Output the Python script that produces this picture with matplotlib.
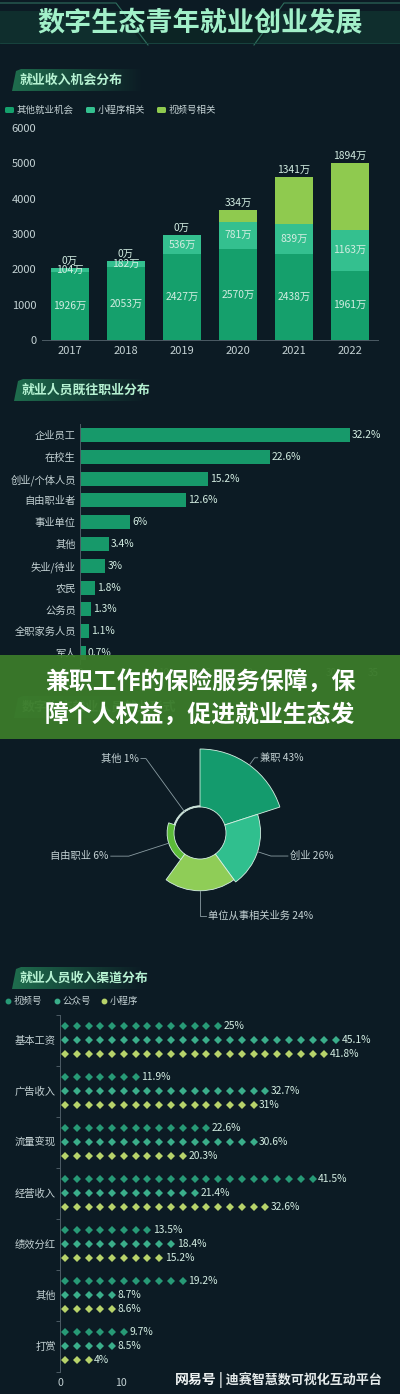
import numpy as np
import matplotlib
matplotlib.use("Agg")
import matplotlib.pyplot as plt
from matplotlib.patches import Wedge, Polygon, Rectangle, FancyBboxPatch
from matplotlib.colors import LinearSegmentedColormap

plt.rcParams['font.family'] = ['Noto Sans CJK SC', 'DejaVu Sans']

# ---- data ----
years = ['2017', '2018', '2019', '2020', '2021', '2022']
other_jobs = [1926, 2053, 2427, 2570, 2438, 1961]
mini_jobs = [104, 182, 536, 781, 839, 1163]
video_jobs = [0, 0, 0, 334, 1341, 1894]

prev_jobs = ['企业员工', '在校生', '创业/个体人员', '自由职业者', '事业单位', '其他',
             '失业/待业', '农民', '公务员', '全职家务人员', '军人']
prev_pct = [32.2, 22.6, 15.2, 12.6, 6, 3.4, 3, 1.8, 1.3, 1.1, 0.7]

form_names = ['兼职', '创业', '单位从事相关业务', '自由职业', '其他']
form_pct = [43, 26, 24, 6, 1]

channels = ['基本工资', '广告收入', '流量变现', '经营收入', '绩效分红', '其他', '打赏']
ch_video = [25, 11.9, 22.6, 41.5, 13.5, 19.2, 9.7]
ch_gzh = [45.1, 32.7, 30.6, 21.4, 18.4, 8.7, 8.5]
ch_mini = [41.8, 31, 20.3, 32.6, 15.2, 8.6, 4]

# ---- style ----
BG = '#0c1b24'
TXT = '#c4d2d4'
LBL = '#d3ede2'
W, H = 400, 1394

fig = plt.figure(figsize=(W / 100, H / 100), dpi=100, facecolor=BG)


def ax_px(x0, y0, x1, y1, **kw):
    return fig.add_axes([x0 / W, 1 - y1 / H, (x1 - x0) / W, (y1 - y0) / H], **kw)


deco = ax_px(0, 0, W, H)
deco.set_facecolor(BG)
deco.axis('off')


def tab(x0, y, text, alpha=1.0):
    poly = Polygon([(x0 - 6, y + 11), (x0 - 2, y - 9), (x0 + 3, y - 11), (x0 + 125, y - 11),
                    (x0 + 125, y + 11)], closed=True, facecolor='none', edgecolor='none')
    deco.add_patch(poly)
    grad = np.linspace(1, 0, 256).reshape(1, -1)
    cmap = LinearSegmentedColormap.from_list('tab', [BG, '#1f6e4e'])
    im = deco.imshow(grad, extent=[x0 - 6, x0 + 125, y + 11, y - 11], cmap=cmap,
                     aspect='auto', zorder=1, alpha=alpha)
    im.set_clip_path(poly)
    deco.text(x0 + 2, y, text, color='#b6f2d2', fontsize=9.3, fontweight='bold',
              va='center', ha='left', zorder=2, alpha=alpha)


# title band
deco.add_patch(Rectangle((0, 11), W, 32, facecolor='#0f2e2d', edgecolor='none', zorder=0.5))
deco.add_patch(Polygon([(118, 11), (282, 11), (258, 43), (142, 43)], closed=True,
                       facecolor='#0c2424', edgecolor='none', zorder=0.6))
deco.plot([0, 116, 148], [3, 3, 45], color='#2f6f5e', lw=0.8, zorder=0.7)
deco.plot([400, 284, 254], [3, 3, 45], color='#2f6f5e', lw=0.8, zorder=0.7)
deco.plot([0, 400], [43, 43], color='#1a4a42', lw=0.6, zorder=0.7)
deco.text(200, 23, '数字生态青年就业创业发展', color='#a2f0c9', fontsize=19.5,
          fontweight='bold', ha='center', va='center', zorder=2)

tab(18, 80, '就业收入机会分布')
tab(20, 390, '就业人员既往职业分布')
tab(20, 707, '数字生态就业人员就业形式', alpha=0.6)
tab(18, 978, '就业人员收入渠道分布')

# ---- chart 1: stacked bars ----
c_other, c_mini, c_video = '#15a06c', '#34c08f', '#8fca4f'
legend1 = [('其他就业机会', c_other, 5), ('小程序相关', c_mini, 86), ('视频号相关', c_video, 157)]
for name, col, lx in legend1:
    deco.add_patch(FancyBboxPatch((lx, 107), 9, 6, boxstyle='round,pad=0,rounding_size=1.5',
                                  facecolor=col, edgecolor='none', zorder=2))
    deco.text(lx + 12, 110, name, color=TXT, fontsize=6.8, va='center', ha='left', zorder=2)

ax1 = ax_px(42, 128, 378, 340)
ax1.set_facecolor('none')
x = np.arange(len(years))
o = np.array(other_jobs)
m = np.array(mini_jobs)
v = np.array(video_jobs)
ax1.bar(x, o, 0.68, color=c_other)
ax1.bar(x, m, 0.68, bottom=o, color=c_mini)
ax1.bar(x, v, 0.68, bottom=o + m, color=c_video)
for i in range(len(years)):
    ax1.text(x[i], o[i] / 2, f'{o[i]}万', color=LBL, fontsize=7.4, ha='center', va='center')
    ax1.text(x[i], o[i] + m[i] / 2, f'{m[i]}万', color=LBL, fontsize=7.4, ha='center', va='center')
    ax1.text(x[i], o[i] + m[i] + v[i] + 60, f'{v[i]}万', color=LBL, fontsize=7.4,
             ha='center', va='bottom')
ax1.set_xlim(-0.5, len(years) - 0.5)
ax1.set_ylim(0, 6000)
ax1.set_yticks(range(0, 6001, 1000))
ax1.set_xticks(x)
ax1.set_xticklabels(years)
ax1.tick_params(colors=TXT, labelsize=8, length=0, pad=4)
for s in ['top', 'right', 'left']:
    ax1.spines[s].set_visible(False)
ax1.spines['bottom'].set_color('#4c5c64')
ax1.spines['bottom'].set_linewidth(0.7)

# ---- chart 2: previous jobs ----
ax2 = ax_px(80, 424, 373.6, 664)
ax2.set_facecolor('none')
yy = np.arange(len(prev_jobs))
ax2.barh(yy, prev_pct, 0.64, color='#17996a')
for i, p in enumerate(prev_pct):
    ax2.text(p + 0.25, yy[i], f'{p:g}%', color=LBL, fontsize=7.4, va='center', ha='left')
ax2.set_ylim(len(prev_jobs) - 0.5, -0.5)
ax2.set_xlim(0, 35)
ax2.set_yticks(yy)
ax2.set_yticklabels(prev_jobs)
ax2.set_xticks(range(0, 36, 5))
ax2.tick_params(axis='y', colors=TXT, labelsize=7.4, length=0, pad=3)
ax2.tick_params(axis='x', colors='#7f8f94', labelsize=7, length=0, pad=3)
for s in ['top', 'right', 'bottom']:
    ax2.spines[s].set_visible(False)
ax2.spines['left'].set_color('#4c5c64')
ax2.spines['left'].set_linewidth(0.7)

# ---- chart 3: rose ----
ax3 = ax_px(0, 740, 400, 955)
ax3.set_facecolor('none')
ax3.set_xlim(-200, 200)
ax3.set_ylim(-122, 93)
ax3.axis('off')
form_colors = ['#149b6d', '#30bf8e', '#8fcd57', '#5cbb38', '#c9d2d2']
lead = [9, 14, 25, 42, 66]
tail = [3, 17, 6, 18, 5]
r0, r1 = 26, 84
vmin, vmax = min(form_pct), max(form_pct)
step = 360 / len(form_pct)
for i, (name, p) in enumerate(zip(form_names, form_pct)):
    t2 = 90 - step * i
    t1 = t2 - step
    r = r0 + (p - vmin) / (vmax - vmin) * (r1 - r0)
    ax3.add_patch(Wedge((0, 0), max(r, r0 + 1.2), t1, t2, width=max(r - r0, 1.2),
                        facecolor=form_colors[i], edgecolor='#d6f0e4', lw=0.6))
    mid = np.deg2rad((t1 + t2) / 2)
    c, s = np.cos(mid), np.sin(mid)
    side = 1 if c >= -1e-9 else -1
    p0 = (r * c, r * s)
    p1 = ((r + lead[i]) * c, (r + lead[i]) * s)
    p2 = (p1[0] + side * tail[i], p1[1])
    ax3.plot([p0[0], p1[0], p2[0]], [p0[1], p1[1], p2[1]], color='#8a9ca2', lw=0.6)
    ax3.text(p2[0] + side * 2, p2[1], f'{name} {p}%', color=TXT, fontsize=7.4,
             ha='left' if side > 0 else 'right', va='center')

# ---- chart 4: income channels (diamonds) ----
c_v, c_g, c_m = '#279a76', '#3aae8a', '#b7d36a'
legend4 = [('视频号', c_v, 8), ('公众号', c_g, 57), ('小程序', c_m, 104)]
for name, col, lx in legend4:
    deco.plot(lx, 1001, 'o', color=col, ms=3.2, zorder=2)
    deco.text(lx + 6, 1001, name, color=TXT, fontsize=6.8, va='center', ha='left', zorder=2)

ax4 = ax_px(60, 1014.5, 367, 1371.5)
ax4.set_facecolor('none')
unit = 1.92
offsets = [-0.275, 0, 0.275]
for j, (series, col) in enumerate([(ch_video, c_v), (ch_gzh, c_g), (ch_mini, c_m)]):
    for i, val in enumerate(series):
        n = int(np.ceil(val / unit + 0.25))
        xs = (np.arange(n) + 0.42) * unit
        ax4.plot(xs, np.full(n, i + offsets[j]), 'D', color=col, ms=3.9, mew=0)
        ax4.text(xs[-1] + 0.9, i + offsets[j], f'{val:g}%', color=LBL, fontsize=7.4,
                 va='center', ha='left')
ax4.set_xlim(0, 50)
ax4.set_ylim(len(channels) - 0.5, -0.5)
ax4.set_yticks(np.arange(len(channels)))
ax4.set_yticklabels(channels)
ax4.set_yticks(np.arange(len(channels) + 1) - 0.5, minor=True)
ax4.tick_params(axis='y', which='major', colors=TXT, labelsize=7.4, length=0, pad=3)
ax4.tick_params(axis='y', which='minor', color='#4c5c64', length=3, width=0.7)
# the watermark hides the ticks past 10 in the source image
ax4.set_xticks([0, 10])
ax4.tick_params(axis='x', colors=TXT, labelsize=7.6, length=0, pad=5)
for s in ['top', 'right', 'bottom']:
    ax4.spines[s].set_visible(False)
ax4.spines['left'].set_color('#4c5c64')
ax4.spines['left'].set_linewidth(0.7)

# ---- overlay: banner and watermark ----
top = ax_px(0, 0, W, H, zorder=10)
top.set_facecolor('none')
top.axis('off')
top.add_patch(Rectangle((0, 655), W, 84, facecolor='#3c7d2a', alpha=0.93, edgecolor='none'))
top.text(200, 682, '兼职工作的保险服务保障，保', color='white', fontsize=17.2,
         fontweight='bold', ha='center', va='center')
top.text(200, 715, '障个人权益，促进就业生态发', color='white', fontsize=17.2,
         fontweight='bold', ha='center', va='center')
top.text(175, 1380, '网易号', color='#eef2f2', fontsize=10, fontweight='bold',
         ha='left', va='center')
top.text(219, 1380, '| 迪赛智慧数可视化互动平台', color='#e4eaea', fontsize=9.4,
         fontweight='bold', ha='left', va='center')

for a in (deco, top):
    a.set_xlim(0, W)
    a.set_ylim(H, 0)

fig.savefig('out.png', dpi=100, facecolor=BG)
